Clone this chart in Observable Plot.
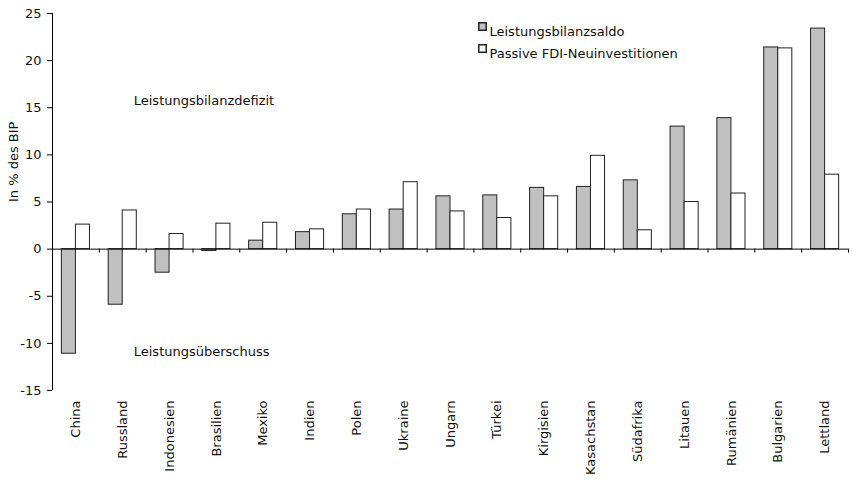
<!DOCTYPE html>
<html>
<head>
<meta charset="utf-8">
<script src="https://cdn.jsdelivr.net/npm/d3@7"></script>
<script src="https://cdn.jsdelivr.net/npm/@observablehq/plot@0.6"></script>
<style>
  html, body { margin: 0; padding: 0; background: #fff; }
</style>
</head>
<body>
<div id="chart"></div>
<script>
const countries = ["China","Russland","Indonesien","Brasilien","Mexiko","Indien","Polen","Ukraine","Ungarn","Türkei","Kirgisien","Kasachstan","Südafrika","Litauen","Rumänien","Bulgarien","Lettland"];
const leistungsbilanzsaldo = [-11.1,-5.9,-2.5,-0.2,0.9,1.8,3.7,4.2,5.6,5.7,6.5,6.6,7.3,13.0,13.9,21.4,23.4];
const fdiNeuinvestitionen = [2.6,4.1,1.6,2.7,2.8,2.1,4.2,7.1,4.0,3.3,5.6,9.9,2.0,5.0,5.9,21.3,7.9];
const seriesNames = ["Leistungsbilanzsaldo","Passive FDI-Neuinvestitionen"];
const yTicks = [-15,-10,-5,0,5,10,15,20,25];
const annotationLabels = ["Leistungsbilanzdefizit","Leistungsüberschuss"];
const annotationCountries = ["Russland","Russland"];
const annotationValues = [15.7,-10.9];

const W = 852, H = 483;
const mL = 52, mR = 4, mT = 13, mB = 93;
const groupFrac = 0.6;
const step = (W - mL - mR) / countries.length;
const bw = step * groupFrac;
const side = (step - bw) / 2;
const pxPerUnit = (H - mT - mB) / (yTicks[yTicks.length-1] - yTicks[0]);

const gray = countries.map((c,i) => ({country: c, value: leistungsbilanzsaldo[i]}));
const white = countries.map((c,i) => ({country: c, value: fdiNeuinvestitionen[i]}));
const ann = annotationLabels.map((t,i) => ({text: t, country: annotationCountries[i], value: annotationValues[i]}));

const fontFamily = "'DejaVu Sans', sans-serif";
const fs = 13;

const chart = Plot.plot({
  width: W, height: H,
  marginLeft: mL, marginRight: mR, marginTop: mT, marginBottom: mB,
  style: {fontFamily, fontSize: fs + "px", color: "#111", background: "#fff"},
  x: {domain: countries, padding: 0, round: false},
  y: {domain: [yTicks[0], yTicks[yTicks.length-1]]},
  marks: [
    Plot.barY(gray, {x: "country", y: "value", insetLeft: side, insetRight: step/2, fill: "#c0c0c0", stroke: "#222", strokeWidth: 1}),
    Plot.barY(white, {x: "country", y: "value", insetLeft: step/2, insetRight: side, fill: "#fff", stroke: "#222", strokeWidth: 1}),
    Plot.ruleY([0], {stroke: "#000", strokeWidth: 1}),
    Plot.ruleX(countries, {x: d => d, y1: 0, y2: -4 / pxPerUnit, dx: step/2, stroke: "#000"}),
    Plot.ruleX([countries[0]], {x: d => d, y1: yTicks[0], y2: yTicks[yTicks.length-1], dx: -step/2, stroke: "#000"}),
    Plot.axisY({ticks: yTicks, tickFormat: d => String(d), tickSize: 5, tickPadding: 6, label: null, fontSize: fs, stroke: "#000"}),
    Plot.axisX({anchor: "bottom", tickRotate: -90, tickSize: 0, tickPadding: 10, label: null, fontSize: fs}),
    Plot.text(["In % des BIP"], {frameAnchor: "left", dx: -39, dy: 0, rotate: -90, fontSize: fs}),
    Plot.text(ann, {x: "country", y: "value", text: "text", textAnchor: "start", dx: 11, fontSize: fs}),
    Plot.dot([seriesNames[0]], {frameAnchor: "top-left", dx: 430, dy: 13, symbol: "square", r: 4.2, fill: "#c0c0c0", stroke: "#222"}),
    Plot.dot([seriesNames[1]], {frameAnchor: "top-left", dx: 430, dy: 35, symbol: "square", r: 4.2, fill: "#fff", stroke: "#222"}),
    Plot.text([seriesNames[0]], {frameAnchor: "top-left", dx: 437, dy: 13, text: d => d, textAnchor: "start", fontSize: fs}),
    Plot.text([seriesNames[1]], {frameAnchor: "top-left", dx: 437, dy: 35, text: d => d, textAnchor: "start", fontSize: fs})
  ]
});
document.getElementById("chart").appendChild(chart);
</script>
</body>
</html>
